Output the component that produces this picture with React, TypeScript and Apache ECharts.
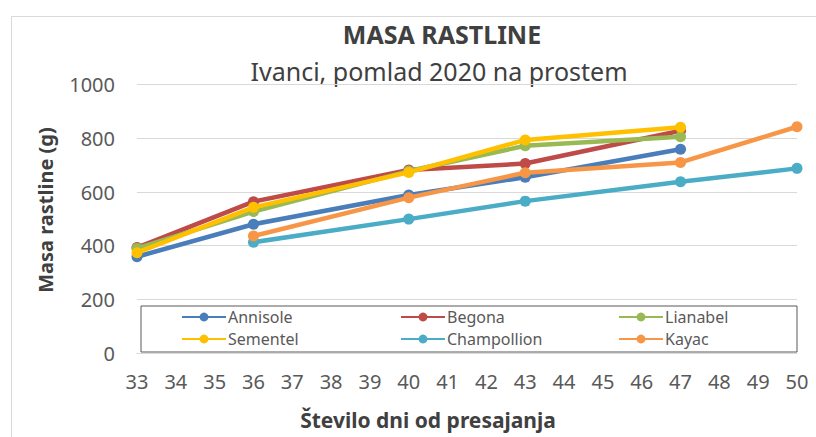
import React, { useEffect, useRef } from "react";
import * as echarts from "echarts";

const seriesNames = ["Annisole", "Begona", "Lianabel", "Sementel", "Champollion", "Kayac"];
const colors = ["#4A7EBB", "#BE4B48", "#98B954", "#FFC000", "#4BACC6", "#F79646"];

const daysEarly = [33, 36, 40, 43, 47];
const daysLate = [36, 40, 43, 47, 50];

const annisole = [359, 480, 589, 655, 759];
const begona = [393, 564, 682, 706, 828];
const lianabel = [390, 527, 678, 772, 806];
const sementel = [374, 543, 673, 794, 841];
const champollion = [413, 499, 566, 638, 688];
const kayac = [436, 579, 672, 710, 843];

const seriesValues = [annisole, begona, lianabel, sementel, champollion, kayac];
const seriesDays = [daysEarly, daysEarly, daysEarly, daysEarly, daysLate, daysLate];

const titleText = "MASA RASTLINE";
const subtitleText = "Ivanci, pomlad 2020 na prostem";
const xTitle = "Število dni od presajanja";
const yTitle = "Masa rastline (g)";

const legendColumns = [
  ["Annisole", "Sementel"],
  ["Begona", "Champollion"],
  ["Lianabel", "Kayac"],
];
const legendLefts = [181, 400, 618];

const FONT = "'Noto Sans', 'DejaVu Sans', sans-serif";

export default function App() {
  const ref = useRef<HTMLDivElement>(null);
  useEffect(() => {
    if (!ref.current) return;
    const chart = echarts.init(ref.current, null, { renderer: "svg" });
    const series = seriesNames.map((name, i) => ({
      name,
      type: "line",
      data: seriesDays[i].map((d, j) => [d, seriesValues[i][j]]),
      symbol: "circle",
      symbolSize: 11,
      lineStyle: { width: 4.5, color: colors[i] },
      itemStyle: { color: colors[i] },
      z: 2 + i * 0.1,
    }));
    chart.setOption({
      animation: false,
      backgroundColor: "#ffffff",
      grid: { left: 137, right: 19, top: 84.6, bottom: 83.9, containLabel: false },
      xAxis: {
        type: "value",
        min: 33,
        max: 50,
        interval: 1,
        axisLine: { show: true, lineStyle: { color: "#d9d9d9", width: 1 } },
        axisTick: { show: false },
        splitLine: { show: false },
        axisLabel: { color: "#595959", fontSize: 20, fontFamily: FONT, margin: 18, formatter: (v: number) => String(v) },
      },
      yAxis: {
        type: "value",
        min: 0,
        max: 1000,
        interval: 200,
        axisLine: { show: false },
        axisTick: { show: false },
        splitLine: { show: true, lineStyle: { color: "#d9d9d9", width: 1 } },
        axisLabel: { color: "#595959", fontSize: 20, fontFamily: FONT, margin: 22, formatter: (v: number) => String(v) },
      },
      legend: legendColumns.map((col, k) => ({
        data: col,
        orient: "vertical",
        left: legendLefts[k],
        top: 309,
        itemWidth: 44,
        itemHeight: 11,
        itemGap: 6,
        padding: 0,
        selectedMode: false,
        textStyle: { color: "#595959", fontSize: 16, fontFamily: FONT, lineHeight: 16, padding: [0, 0, 0, -3] },
        z: 10,
      })),
      graphic: [
        {
          type: "rect",
          shape: { x: 11.5, y: 16.5, width: 830, height: 440 },
          style: { fill: "none", stroke: "#d9d9d9", lineWidth: 1 },
          z: 0,
          silent: true,
        },
        {
          type: "rect",
          shape: { x: 141, y: 306, width: 656, height: 46 },
          style: { fill: "#ffffff", stroke: "#595959", lineWidth: 1 },
          z: 5,
          silent: true,
        },
        {
          type: "text",
          x: 442,
          y: 34,
          style: {
            text: titleText,
            font: `bold 25px ${FONT}`,
            fill: "#404040",
            textAlign: "center",
            textVerticalAlign: "middle",
          },
        },
        {
          type: "text",
          x: 439,
          y: 71,
          style: {
            text: subtitleText,
            font: `25px ${FONT}`,
            fill: "#404040",
            textAlign: "center",
            textVerticalAlign: "middle",
          },
        },
        {
          type: "text",
          x: 428,
          y: 420,
          style: {
            text: xTitle,
            font: `bold 21px ${FONT}`,
            fill: "#404040",
            textAlign: "center",
            textVerticalAlign: "middle",
          },
        },
        {
          type: "text",
          x: 45,
          y: 210,
          rotation: Math.PI / 2,
          style: {
            text: yTitle,
            font: `bold 20px ${FONT}`,
            fill: "#404040",
            textAlign: "center",
            textVerticalAlign: "middle",
          },
        },
      ],
      series,
    });
    return () => chart.dispose();
  }, []);
  return <div ref={ref} style={{ width: 816, height: 437, position: "absolute", left: 0, top: 0 }} />;
}
